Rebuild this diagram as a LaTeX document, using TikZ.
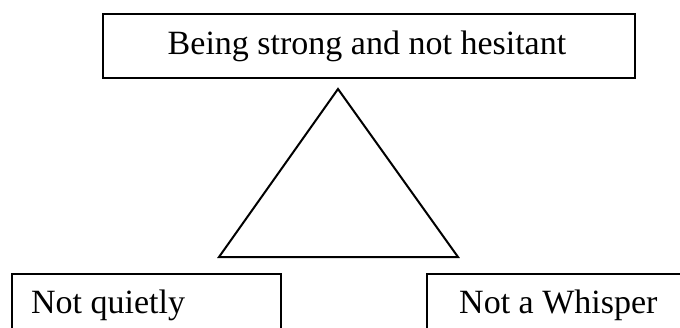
\documentclass[tikz,border=0pt]{standalone}
\usepackage{fontspec}
\setmainfont{Liberation Serif}
\begin{document}
\begin{tikzpicture}[x=1pt,y=1pt,
  boxshape/.style={draw=black,line width=2pt,rectangle,inner sep=0pt,anchor=north west},
  lbl/.style={inner sep=0pt,font=\fontsize{34}{37}\selectfont}]
\useasboundingbox (0,0) rectangle (680,327);
\node[boxshape,minimum width=532pt,minimum height=64pt] (top) at (102,314) {};
\node[lbl,anchor=base] (toptext) at (367,272) {Being strong and not hesitant};
\draw[line width=2pt,line join=miter] (338,238) -- (219,70) -- (458,70) -- cycle;
\node[boxshape,minimum width=269pt,minimum height=80pt] (left) at (11,54) {};
\node[lbl,anchor=base west] (lefttext) at (31,14) {Not quietly};
\node[boxshape,minimum width=300pt,minimum height=80pt] (right) at (426,54) {};
\node[lbl,anchor=base west] (righttext) at (459,14) {Not a Whisper};
\end{tikzpicture}
\end{document}
